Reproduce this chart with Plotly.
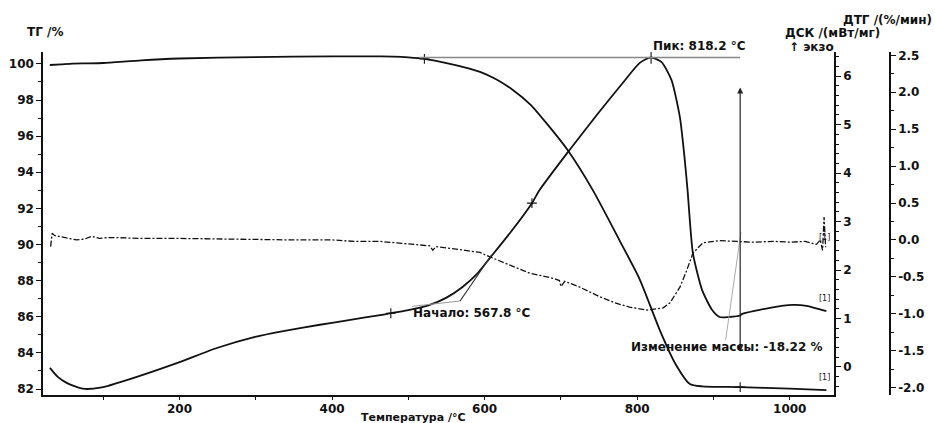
import numpy as np
import plotly.graph_objects as go

# ---------------- data ----------------
TG_T = [30, 45, 60, 80, 100, 150, 200, 300, 400, 450, 480, 500, 521, 550, 575, 594, 615, 637, 660,
        681, 709, 742, 777, 803, 830, 850, 869, 885, 935, 1000, 1048]
TG_V = [99.94, 99.98, 100.02, 100.03, 100.05, 100.2, 100.3, 100.38, 100.42, 100.42, 100.4, 100.36, 100.28,
        100.05, 99.8, 99.56, 99.15, 98.56, 97.75, 96.72, 95.22, 93.0, 90.22, 88.1, 85.22, 83.4, 82.28,
        82.15, 82.11, 82.02, 81.94]

DSC_T = [30, 40, 52, 73, 96, 139, 200, 249, 299, 336, 384, 420, 463, 500, 528, 550, 571, 590, 607,
         635, 662, 672, 709, 747, 781, 803, 818, 832, 845, 856, 862, 866, 873, 885, 898, 908, 920,
         935, 937, 974, 1004, 1022, 1048]
DSC_V = [-0.02, -0.2, -0.33, -0.45, -0.43, -0.23, 0.10, 0.39, 0.62, 0.74, 0.87, 0.96, 1.07, 1.17,
         1.28, 1.43, 1.65, 1.92, 2.25, 2.8, 3.38, 3.65, 4.43, 5.20, 5.86, 6.27, 6.39, 6.29, 5.92,
         5.15, 4.33, 3.65, 2.35, 1.59, 1.18, 1.03, 1.03, 1.06, 1.09, 1.22, 1.28, 1.26, 1.15]

DTG_T = [31, 33, 36, 45, 55, 65, 75, 85, 95, 105, 120, 150, 200, 250, 300, 350, 400, 430, 463, 500,
         528, 532, 536, 560, 594, 607, 630, 659, 690, 698, 700, 705, 725, 751, 770, 790, 813, 820,
         834, 843, 856, 865, 873, 886, 908, 930, 951, 980, 1000, 1020, 1035, 1040, 1043, 1045, 1047]
DTG_V = [-0.09, 0.09, 0.06, 0.04, 0.02, 0.0, 0.01, 0.05, 0.02, 0.03, 0.03, 0.02, 0.02, 0.01, 0.01,
         0.0, 0.0, -0.02, -0.02, -0.06, -0.08, -0.14, -0.09, -0.12, -0.17, -0.23, -0.33, -0.45,
         -0.52, -0.55, -0.63, -0.56, -0.64, -0.77, -0.85, -0.91, -0.95, -0.94, -0.92, -0.85, -0.64,
         -0.41, -0.18, -0.04, -0.01, -0.02, -0.03, -0.02, -0.03, -0.02, -0.06, 0.0, -0.14, 0.31, -0.1]

TG_TICKS = [82, 84, 86, 88, 90, 92, 94, 96, 98, 100]
DSC_TICKS = [0, 1, 2, 3, 4, 5, 6]
DTG_TICKS = [-2.0, -1.5, -1.0, -0.5, 0.0, 0.5, 1.0, 1.5, 2.0, 2.5]
X_TICKS = [200, 400, 600, 800, 1000]

PEAK_T = 818.2
ONSET_T = 567.8
MASS_CHANGE = -18.22
MASS_T = 935
TG_MARK_T = [521, 935]
DSC_MARK_T = [477, 662]

# ---------------- layout helpers ----------------
L, R, T, B = 43, 890, 52, 395
W, H = 935, 423


def xp(px):
    return (px - L) / (R - L)


def yp(py):
    return (B - py) / (B - T)


FONT = "DejaVu Sans"
tickfont = dict(family=FONT, size=12, color="#111", weight="bold")

fig = go.Figure()
line_style = dict(color="#111", width=1.8)

fig.add_trace(go.Scatter(x=TG_T, y=TG_V, mode="lines", line=dict(line_style, shape="spline", smoothing=0.6),
                         yaxis="y", showlegend=False, hoverinfo="skip"))
fig.add_trace(go.Scatter(x=DSC_T, y=DSC_V, mode="lines", line=dict(line_style, shape="spline", smoothing=0.6),
                         yaxis="y2", showlegend=False, hoverinfo="skip"))
fig.add_trace(go.Scatter(x=DTG_T, y=DTG_V, mode="lines",
                         line=dict(color="#111", width=1.3, dash="6px,2px,2px,2px"),
                         yaxis="y3", showlegend=False, hoverinfo="skip"))

# "+" markers on curves
mk = dict(symbol="cross-thin", size=7, line=dict(color="#111", width=1.1))
fig.add_trace(go.Scatter(x=TG_MARK_T, y=np.interp(TG_MARK_T, TG_T, TG_V), mode="markers", marker=mk,
                         yaxis="y", showlegend=False, hoverinfo="skip"))
fig.add_trace(go.Scatter(x=DSC_MARK_T, y=np.interp(DSC_MARK_T, DSC_T, DSC_V), mode="markers", marker=mk,
                         yaxis="y2", showlegend=False, hoverinfo="skip"))
peak_v = float(np.interp(PEAK_T, DSC_T, DSC_V))
fig.add_trace(go.Scatter(x=[PEAK_T], y=[peak_v], mode="markers",
                         marker=dict(symbol="line-ns", size=9, line=dict(color="#111", width=1.1)),
                         yaxis="y2", showlegend=False, hoverinfo="skip"))

shapes = []
# peak horizontal line
shapes.append(dict(type="line", xref="x", yref="y2", x0=515, x1=MASS_T, y0=peak_v, y1=peak_v,
                   line=dict(color="#888", width=1.5)))
# onset construction lines
onset_v = 1.36
shapes.append(dict(type="line", xref="x", yref="y2", x0=505, x1=ONSET_T, y0=1.25, y1=onset_v,
                   line=dict(color="#999", width=1)))
shapes.append(dict(type="line", xref="x", yref="y2", x0=ONSET_T, x1=609, y0=onset_v, y1=2.31,
                   line=dict(color="#333", width=1.2)))
# mass change leader line
shapes.append(dict(type="line", xref="x", yref="y2", x0=916, x1=936, y0=0.56, y1=2.78,
                   line=dict(color="#aaa", width=1)))

annotations = []
# mass change double arrow
annotations.append(dict(x=MASS_T, y=98.7, ax=MASS_T, ay=84.0, xref="x", yref="y", axref="x", ayref="y",
                        text="", showarrow=True, arrowhead=2, arrowside="end+start", arrowsize=1,
                        arrowwidth=1.2, arrowcolor="#222"))


def txt(s, x, y, xanchor="left", size=12, xref="paper", color="#111", weight="bold", yanchor="middle"):
    annotations.append(dict(text=s, x=x, y=y, xref=xref, yref="paper", xanchor=xanchor, yanchor=yanchor,
                            showarrow=False, font=dict(family=FONT, size=size, color=color, weight=weight)))


txt("ТГ /%", xp(25), yp(32))
txt("ДТГ /(%/мин)", xp(934), yp(20), xanchor="right")
txt("ДСК /(мВт/мг)", xp(783), yp(33))
txt("↑ экзо", xp(787), yp(47))
txt(f"Пик: {PEAK_T:.1f} °C", PEAK_T, yp(46), xref="x")
txt(f"Начало: {ONSET_T:.1f} °C", xp(411), yp(313))
txt(f"Изменение массы: {MASS_CHANGE:.2f} %", xp(727), yp(347), xanchor="center")
txt("Температура /°C", xp(468), yp(426), xanchor="right", size=11, yanchor="bottom")
txt("[1]", xp(832), yp(237), xanchor="right", size=8, weight="normal")
txt("[1]", xp(832), yp(298), xanchor="right", size=8, weight="normal")
txt("[1]", xp(832), yp(377), xanchor="right", size=8, weight="normal")

axis_common = dict(showgrid=False, zeroline=False, showline=True, linecolor="#111", linewidth=1.5,
                   ticks="outside", tickcolor="#111", tickwidth=1.2, tickfont=tickfont, automargin=False)

fig.update_layout(
    width=W, height=H,
    margin=dict(l=L, r=W - R, t=T, b=H - B, pad=0, autoexpand=False),
    paper_bgcolor="white", plot_bgcolor="white",
    showlegend=False,
    xaxis=dict(axis_common, domain=[0, (834 - L) / (R - L)], range=[21, 1058],
               tickvals=X_TICKS, ticktext=[str(v) for v in X_TICKS], ticklen=2,
               minor=dict(dtick=100, tick0=0, ticklen=3, ticks="outside", tickcolor="#111")),
    yaxis=dict(axis_common, range=[81.67, 100.66], tickvals=TG_TICKS, ticktext=[str(v) for v in TG_TICKS],
               ticklen=5, minor=dict(dtick=1, tick0=82, ticklen=3, ticks="outside", tickcolor="#111")),
    yaxis2=dict(axis_common, overlaying="y", side="right", anchor="x", range=[-0.58, 6.5],
                tickvals=DSC_TICKS, ticktext=[str(v) for v in DSC_TICKS], ticklen=5,
                minor=dict(dtick=0.2, tick0=0, ticklen=3, ticks="outside", tickcolor="#111")),
    yaxis3=dict(axis_common, overlaying="y", side="right", anchor="free", position=1.0,
                range=[-2.1, 2.545], tickvals=DTG_TICKS, ticktext=[f"{v:.1f}" for v in DTG_TICKS],
                ticklen=5, minor=dict(dtick=0.25, tick0=0, ticklen=3, ticks="outside", tickcolor="#111")),
    shapes=shapes,
    annotations=annotations,
)

fig.write_html("out.html", config={"displayModeBar": False},
               post_script="document.body.style.margin='0';document.body.style.padding='0';")
